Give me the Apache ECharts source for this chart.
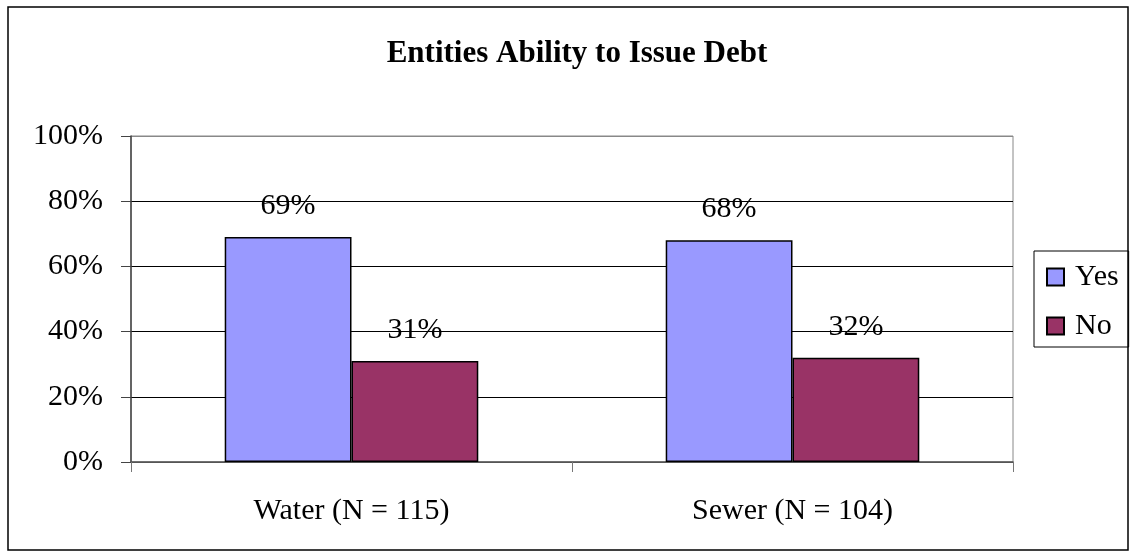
<!DOCTYPE html>
<html>
<head>
<meta charset="utf-8">
<script src="https://cdn.jsdelivr.net/npm/echarts@6/dist/echarts.min.js"></script>
<style>
  html, body { margin: 0; padding: 0; background: #fff; }
  #chart { width: 1130px; height: 556px; }
</style>
</head>
<body>
<div id="chart"></div>
<script>
const categories = ['Water (N = 115)', 'Sewer (N = 104)']
const yesValues = [69, 68]
const noValues = [31, 32]
const seriesNames = ['Yes', 'No']

const font = "'Liberation Serif', 'Times New Roman', serif"
const myChart = echarts.init(document.getElementById('chart'))

const barLabel = {
  show: true,
  position: 'top',
  distance: 16,
  formatter: '{c}%',
  color: '#000',
  fontFamily: font,
  fontSize: 30
}

const option = {
  backgroundColor: '#fff',
  animation: false,
  title: {
    text: 'Entities Ability to Issue Debt',
    left: 572,
    top: 33,
    textAlign: 'center',
    textStyle: {
      fontFamily: font,
      fontWeight: 'bold',
      fontSize: 31,
      color: '#000'
    }
  },
  legend: {
    orient: 'vertical',
    left: 1034,
    top: 251,
    data: seriesNames,
    itemWidth: 17,
    itemHeight: 17,
    itemGap: 19,
    padding: [11, 10, 6, 12],
    borderColor: '#000',
    borderWidth: 1,
    icon: 'rect',
    textStyle: {
      fontFamily: font,
      fontSize: 30,
      color: '#000',
      padding: [0, 0, 0, 6]
    }
  },
  grid: {
    left: 131,
    right: 117,
    top: 136,
    bottom: 94,
    show: true,
    borderColor: '#888',
    borderWidth: 1
  },
  xAxis: {
    type: 'category',
    data: categories,
    axisLine: { lineStyle: { color: '#555', width: 1.5 } },
    axisTick: { show: true, length: 10, lineStyle: { color: '#777' } },
    axisLabel: {
      margin: 34,
      color: '#000',
      fontFamily: font,
      fontSize: 30
    }
  },
  yAxis: {
    type: 'value',
    min: 0,
    max: 100,
    interval: 20,
    axisLine: { show: true, lineStyle: { color: '#444', width: 1.5 } },
    axisTick: { show: true, length: 10, lineStyle: { color: '#444' } },
    axisLabel: {
      margin: 28,
      formatter: '{value}%',
      color: '#000',
      fontFamily: font,
      fontSize: 30
    },
    splitLine: {
      lineStyle: {
        color: ['#555', '#000', '#000', '#000', '#000', '#888'],
        width: 1
      }
    }
  },
  series: [
    {
      name: seriesNames[0],
      type: 'bar',
      data: yesValues,
      barGap: '0%',
      barCategoryGap: '42.5%',
      itemStyle: { color: '#9999FF', borderColor: '#000', borderWidth: 1.5 },
      label: barLabel
    },
    {
      name: seriesNames[1],
      type: 'bar',
      data: noValues,
      barGap: '0%',
      barCategoryGap: '42.5%',
      itemStyle: { color: '#993366', borderColor: '#000', borderWidth: 1.5 },
      label: barLabel
    }
  ],
  graphic: [
    {
      type: 'rect',
      shape: { x: 8, y: 7, width: 1120, height: 543 },
      style: { fill: 'none', stroke: '#000', lineWidth: 1.5 },
      silent: true
    }
  ]
}

myChart.setOption(option)
window.addEventListener('resize', () => {
  myChart.resize()
})
</script>
</body>
</html>
